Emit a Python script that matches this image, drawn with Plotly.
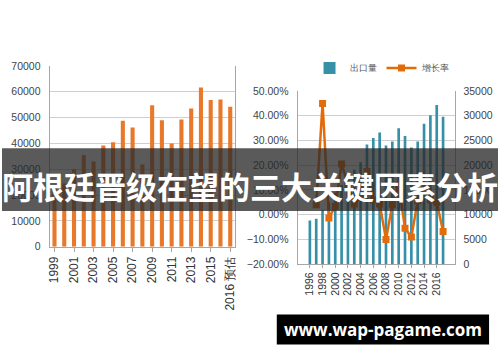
import plotly.graph_objects as go

# ---------------- data ----------------
left_categories = ["1999", "2000", "2001", "2002", "2003", "2004", "2005", "2006", "2007",
                   "2008", "2009", "2010", "2011", "2012", "2013", "2014", "2015", "2016",
                   "2016 预估"]
left_values = [23000, 24500, 30000, 35500, 33000, 39200, 40500, 48800, 46200,
               31800, 54800, 49000, 40000, 49300, 53500, 61700, 56800, 57000,
               54200]
left_tick_labels = ["1999", "2001", "2003", "2005", "2007", "2009", "2011", "2013", "2015", "2016 预估"]

right_categories = ["1996", "1997", "1998", "1999", "2000", "2001", "2002", "2003", "2004",
                    "2005", "2006", "2007", "2008", "2009", "2010", "2011", "2012", "2013",
                    "2014", "2015", "2016", "2017"]
export_volume = [8850, 9200, 11000, 12500, 14500, 16000, 17500, 19100, 20600,
                 24200, 25500, 26600, 24000, 24800, 27500, 25900, 23600, 24800,
                 28400, 30100, 32200, 29800]
growth_rate = [None, 0.04, 0.45, -0.013, 0.034, 0.205, 0.12, 0.043, 0.07,
               0.175, 0.06, 0.043, -0.10, 0.04, 0.12, -0.055, -0.09, 0.056,
               0.10, 0.06, 0.05, -0.068]
right_tick_labels = ["1996", "1998", "2000", "2002", "2004", "2006", "2008", "2010", "2012", "2014", "2016"]

title_text = "阿根廷晋级在望的三大关键因素分析"
watermark_text = "www.wap-pagame.com"

# ---------------- layout helpers ----------------
W, H = 500, 362
def px(x):
    return x / W
def py(y):
    return 1 - y / H

ORANGE_BAR = "#E8792B"
TEAL = "#3690A8"
LINE_ORANGE = "#E36C0A"
GRID = "#CFCFCF"
AXLINE = "#A6A6A6"
TXT = "#404040"
FONT = "Liberation Sans, Arial, sans-serif"

fig = go.Figure()

fig.add_trace(go.Bar(
    x=left_categories, y=left_values, xaxis="x", yaxis="y",
    marker=dict(color=ORANGE_BAR, line=dict(width=0)), width=0.42,
    showlegend=False, name="left",
))

fig.add_trace(go.Bar(
    x=right_categories, y=export_volume, xaxis="x2", yaxis="y2",
    marker=dict(color=TEAL, line=dict(width=0)), width=0.42,
    name="出口量",
))

fig.add_trace(go.Scatter(
    x=right_categories, y=growth_rate, xaxis="x2", yaxis="y3",
    mode="lines+markers", line=dict(color=LINE_ORANGE, width=2.5),
    marker=dict(symbol="square", size=7, color=LINE_ORANGE),
    name="增长率",
))

fig.update_layout(
    width=W, height=H,
    margin=dict(l=0, r=0, t=0, b=0),
    paper_bgcolor="white", plot_bgcolor="white",
    font=dict(family=FONT, color=TXT, size=10),
    xaxis=dict(
        domain=[px(48), px(235)], anchor="y",
        type="category",
        tickmode="array", tickvals=left_tick_labels, ticktext=left_tick_labels,
        tickangle=-90, tickfont=dict(size=12, color="#333333"),
        showline=True, linecolor=AXLINE, ticks="outside", ticklen=4, tickcolor=AXLINE,
        showgrid=False,
    ),
    yaxis=dict(
        domain=[py(249), py(62)], anchor="x",
        range=[0, 70000], dtick=10000, tickformat="d",
        showgrid=True, gridcolor=GRID, gridwidth=1,
        showline=True, linecolor=AXLINE, mirror=True,
        zeroline=False, tickfont=dict(size=10.5, color="#444444"),
        ticks="", ticklabelstandoff=6,
    ),
    xaxis2=dict(
        domain=[px(298), px(457)], anchor="y2",
        type="category",
        tickmode="array", tickvals=right_tick_labels, ticktext=right_tick_labels,
        tickangle=-90, tickfont=dict(size=10.5, color="#333333"),
        showline=True, linecolor=AXLINE, ticks="outside", ticklen=3, tickcolor=AXLINE,
        showgrid=False,
    ),
    yaxis2=dict(
        domain=[py(267), py(88)], anchor="x2", side="right",
        range=[0, 35000], dtick=5000, tickformat="d",
        showgrid=True, gridcolor=GRID, gridwidth=1,
        showline=True, linecolor=AXLINE, zeroline=False,
        tickfont=dict(size=10.5, color="#444444"), ticklabelstandoff=5,
    ),
    yaxis3=dict(
        overlaying="y2", anchor="x2", side="left",
        range=[-0.2, 0.5], dtick=0.1, tickformat=".2%",
        showgrid=False, showline=True, linecolor=AXLINE, zeroline=False,
        tickfont=dict(size=10.5, color="#444444"), ticklabelstandoff=6,
    ),
    legend=dict(
        orientation="h", x=px(310), y=py(64), xanchor="left", yanchor="middle",
        font=dict(size=9, color="#555555"), bgcolor="rgba(0,0,0,0)",
        itemwidth=30, tracegroupgap=0,
    ),
    shapes=[
        dict(type="rect", xref="paper", yref="paper", x0=0, x1=1,
             y0=py(212), y1=py(147), fillcolor="rgba(40,40,40,0.77)",
             line=dict(width=0), layer="above"),
        dict(type="rect", xref="paper", yref="paper", x0=px(277), x1=px(491),
             y0=py(350), y1=py(319), fillcolor="black",
             line=dict(width=0), layer="above"),
    ],
    annotations=[
        dict(text="<b>" + title_text + "</b>", xref="paper", yref="paper",
             x=0.5, y=py(186), xanchor="center", yanchor="middle", showarrow=False,
             font=dict(family="Noto Sans CJK SC", size=31, color="white")),
        dict(text="<b>" + watermark_text + "</b>", xref="paper", yref="paper",
             x=px(384), y=py(335), xanchor="center", yanchor="middle", showarrow=False,
             font=dict(family="Open Sans, DejaVu Sans, sans-serif", size=17, color="white")),
    ],
)

fig.write_html("out.html", config={"displayModeBar": False},
               post_script="document.body.style.margin='0';")
